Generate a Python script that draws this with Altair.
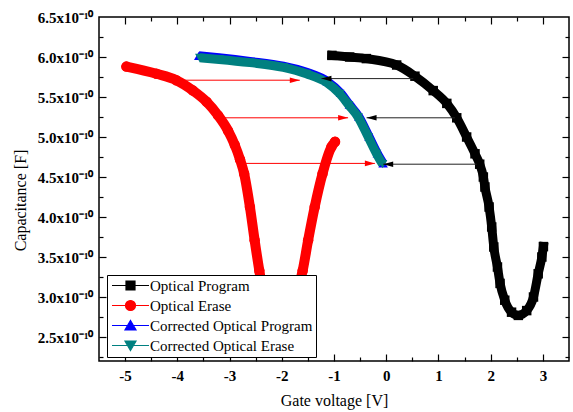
import altair as alt
import pandas as pd

# ---------------- data (capacitance in units of 1e-10 F) ----------------
prog_v = [-1.04, -0.70, -0.38, 0.20, 0.55, 0.90, 1.16, 1.35, 1.54, 1.70, 1.79, 1.86,
          1.89, 1.97, 2.02, 2.06, 2.13, 2.18, 2.27, 2.40, 2.53, 2.69, 2.82, 2.91, 2.98, 3.01]
prog_c = [6.02, 6.00, 5.98, 5.90, 5.76, 5.58, 5.42, 5.24, 5.00, 4.79, 4.66, 4.50,
          4.375, 4.125, 3.875, 3.625, 3.375, 3.17, 2.96, 2.81, 2.77, 2.83, 3.00, 3.29, 3.50, 3.63]

erase_v = [-4.975, -4.40, -4.02, -3.70, -3.44, -3.22, -3.03, -2.90, -2.80, -2.72, -2.61,
           -2.52, -2.43, -2.34, -2.20, -2.03, -1.86, -1.72, -1.60, -1.495, -1.37, -1.22, -1.05, -0.98]
erase_c = [5.88, 5.79, 5.71, 5.58, 5.44, 5.27, 5.08, 4.90, 4.72, 4.54, 4.125,
           3.71, 3.33, 3.00, 2.78, 2.70, 2.80, 3.02, 3.33, 3.71, 4.125, 4.54, 4.875, 4.94]

cprog_v = [-3.59, -3.20, -2.61, -1.97, -1.51, -1.13, -0.875, -0.705, -0.525, -0.33, -0.17, -0.06]
cprog_c = [6.015, 5.99, 5.945, 5.885, 5.805, 5.695, 5.55, 5.405, 5.255, 5.005, 4.795, 4.67]

cerase_v = [-3.57, -3.20, -2.61, -1.97, -1.53, -1.14, -0.89, -0.72, -0.54, -0.345, -0.185, -0.07]
cerase_c = [5.99, 5.97, 5.93, 5.87, 5.79, 5.68, 5.54, 5.40, 5.25, 5.00, 4.79, 4.66]

# shift arrows
red_arrow_from = [-3.89, -3.11, -2.74]
red_arrow_to = [-1.655, -0.73, -0.217]
red_arrow_c = [5.71, 5.24, 4.67]
blk_arrow_from = [0.517, 1.315, 1.73]
blk_arrow_to = [-1.24, -0.376, -0.058]
blk_arrow_c = [5.73, 5.24, 4.66]

series_names = ["Optical Program", "Optical Erase",
                "Corrected Optical Program", "Corrected Optical Erase"]
series_colors = ["#000000", "#ff0000", "#0000ff", "#008080"]

x_label_vals = [-5, -4, -3, -2, -1, 0, 1, 2, 3]
x_tick_vals = [-5, -4.5, -4, -3.5, -3, -2.5, -2, -1.5, -1, -0.5, 0, 0.5, 1, 1.5, 2, 2.5, 3]
y_label_vals = [2.5, 3.0, 3.5, 4.0, 4.5, 5.0, 5.5, 6.0, 6.5]
y_tick_vals = [2.25, 2.5, 2.75, 3.0, 3.25, 3.5, 3.75, 4.0, 4.25, 4.5, 4.75, 5.0,
               5.25, 5.5, 5.75, 6.0, 6.25]

# ---------------- layout constants ----------------
W, H = 470, 344
SERIF = "Liberation Serif, Times New Roman, serif"
X_DOM = [-5.5, 3.5]
Y_DOM = [2.2, 6.5]

prog_df = pd.DataFrame({"v": prog_v, "c": prog_c})
erase_df = pd.DataFrame({"v": erase_v, "c": erase_c})
cprog_df = pd.DataFrame({"v": cprog_v, "c": cprog_c})
cerase_df = pd.DataFrame({"v": cerase_v, "c": cerase_c})
red_arr_df = pd.DataFrame({"v": red_arrow_from, "v2": red_arrow_to, "c": red_arrow_c})
blk_arr_df = pd.DataFrame({"v": blk_arrow_from, "v2": blk_arrow_to, "c": blk_arrow_c})
legend_df = pd.DataFrame({"series": series_names})

xs = alt.Scale(domain=X_DOM, nice=False, zero=False)
ys = alt.Scale(domain=Y_DOM, nice=False, zero=False)


def X(field="v", axis=None):
    return alt.X(f"{field}:Q", scale=xs, axis=axis)


def Y(axis=None):
    return alt.Y("c:Q", scale=ys, axis=axis)


# axes
x_lab_axis = alt.Axis(orient="bottom", values=x_label_vals, ticks=False, tickSize=0,
                      domain=False, grid=False, labelPadding=7, labelFont=SERIF,
                      labelFontSize=15, labelFontWeight=700, labelColor="black",
                      labelExpr="'' + datum.value",
                      title="Gate voltage [V]", titleFont=SERIF, titleFontSize=16,
                      titleFontWeight="normal", titleColor="black", titleY=39,
                      titleBaseline="middle")
y_lab_axis = alt.Axis(orient="left", values=y_label_vals, ticks=False, tickSize=0,
                      domain=False, grid=False, labelPadding=6, labelFont=SERIF,
                      labelFontSize=15, labelFontWeight=700, labelColor="black",
                      labelExpr="format(datum.value, '.1f') + 'x10\u207b\u00b9\u2070'",
                      title="Capacitance [F]", titleFont=SERIF, titleFontSize=16,
                      titleFontWeight="normal", titleColor="black", titleX=-79,
                      titleY=183, titleAngle=270, titleAlign="center",
                      titleBaseline="middle")

XTEST = "datum.value % 1 == 0"
YTEST = "(datum.value * 2) % 1 == 0"


def tick_axis(orient, offset, values, test):
    return alt.Axis(orient=orient, offset=offset, values=values, labels=False,
                    domain=False, grid=False, title=None, ticks=True,
                    tickColor="black", tickWidth=1.2,
                    tickSize={"condition": {"test": test, "value": 7}, "value": 4})


# ---------------- layers ----------------
red_line = alt.Chart(erase_df).mark_line(
    color="#ff0000", strokeWidth=10, interpolate="monotone", strokeCap="round"
).encode(x=X(axis=x_lab_axis), y=Y(axis=y_lab_axis))

red_pts = alt.Chart(erase_df).mark_point(
    filled=True, shape="circle", size=110, color="#ff0000", opacity=1
).encode(x=X(axis=tick_axis("top", -H, x_tick_vals, XTEST)),
         y=Y(axis=tick_axis("right", -W, y_tick_vals, YTEST)))

blk_line = alt.Chart(prog_df).mark_line(
    color="#000000", strokeWidth=9, interpolate="monotone", strokeCap="square"
).encode(x=X(axis=tick_axis("bottom", -H, x_tick_vals, XTEST)),
         y=Y(axis=tick_axis("left", -W, y_tick_vals, YTEST)))

blk_pts = alt.Chart(prog_df).mark_point(
    filled=True, shape="square", size=90, color="#000000", opacity=1
).encode(x=X(), y=Y())

blue_line = alt.Chart(cprog_df).mark_line(
    color="#0000ff", strokeWidth=9, interpolate="monotone"
).encode(x=X(), y=Y())
blue_pts = alt.Chart(cprog_df).mark_point(
    filled=True, shape="triangle-up", size=90, color="#0000ff", opacity=1
).encode(x=X(), y=Y())

teal_line = alt.Chart(cerase_df).mark_line(
    color="#008080", strokeWidth=9, interpolate="monotone"
).encode(x=X(), y=Y())
teal_pts = alt.Chart(cerase_df).mark_point(
    filled=True, shape="triangle-down", size=90, color="#008080", opacity=1
).encode(x=X(), y=Y())

red_rule = alt.Chart(red_arr_df).mark_rule(color="#ff0000", strokeWidth=1).encode(
    x=X(), x2="v2:Q", y=Y())
red_head = alt.Chart(red_arr_df).mark_point(
    filled=True, shape="M0,0L-1,-0.28L-1,0.28Z", size=400, color="#ff0000", opacity=1
).encode(x=X("v2"), y=Y())

blk_rule = alt.Chart(blk_arr_df).mark_rule(color="#222222", strokeWidth=1).encode(
    x=X(), x2="v2:Q", y=Y())
blk_head = alt.Chart(blk_arr_df).mark_point(
    filled=True, shape="M0,0L1,-0.28L1,0.28Z", size=400, color="#000000", opacity=1
).encode(x=X("v2"), y=Y())

legend_paths = [
    "M-3.7,0H3.7M-0.9,-0.9H0.9V0.9H-0.9Z",
    "M-3.7,0H3.7M1,0A1,1,0,1,1,-1,0A1,1,0,1,1,1,0Z",
    "M-3.7,0H3.7M0,-1L1.1,0.9H-1.1Z",
    "M-3.7,0H3.7M0,1L1.1,-0.9H-1.1Z",
]

leg = alt.Legend(title=None, orient="none", legendX=8, legendY=258,
                 fillColor="white", strokeColor="black", padding=3,
                 labelFont=SERIF, labelFontSize=15, labelColor="black",
                 labelLimit=400, symbolSize=100, symbolStrokeWidth=1.2,
                 rowPadding=4, symbolOffset=13, labelOffset=12, zindex=2)

legend_layer = alt.Chart(legend_df).transform_filter("false").mark_point(
    filled=True, opacity=1, strokeWidth=1.2
).encode(
    fill=alt.Fill("series:N", scale=alt.Scale(domain=series_names, range=series_colors), legend=leg),
    stroke=alt.Stroke("series:N", scale=alt.Scale(domain=series_names, range=series_colors), legend=leg),
    shape=alt.Shape("series:N", scale=alt.Scale(domain=series_names, range=legend_paths), legend=leg),
)

chart = alt.layer(
    red_line, red_pts, blk_line, blk_pts, blue_line, blue_pts, teal_line, teal_pts,
    red_rule, red_head, blk_rule, blk_head, legend_layer
).resolve_axis(x="independent", y="independent").properties(
    width=W, height=H,
    autosize=alt.AutoSizeParams(type="none"),
    padding={"left": 99, "top": 17, "right": 4, "bottom": 51},
    background="white",
).configure_view(stroke="black", strokeWidth=1.5).configure_legend(strokeWidth=1)

chart.save("out.html", embed_options={"renderer": "svg", "actions": False})
